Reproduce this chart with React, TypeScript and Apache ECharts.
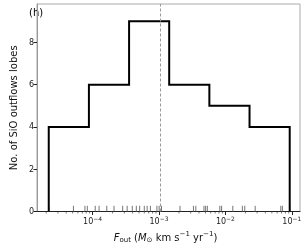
import React, { useEffect, useRef } from "react";
import * as echarts from "echarts";

// log10 of F_out (Msun km/s/yr)
const BIN_EDGES = [-4.661, -4.056, -3.451, -2.847, -2.242, -1.637, -1.032];
const BIN_COUNTS = [4, 6, 9, 6, 5, 4];
const RUG_LOG_FOUT = [
  -4.661, -4.289, -4.116, -4.08,
  -3.961, -3.903, -3.787, -3.678, -3.548, -3.48,
  -3.403, -3.342, -3.292, -3.222, -3.179, -3.13, -3.032, -2.998, -2.963,
  -2.684, -2.482, -2.446, -2.323, -2.298, -2.272,
  -2.084, -2.058, -1.889, -1.745, -1.709,
  -1.552, -1.166, -1.142, -1.032,
];
const MEDIAN_LOG = -2.975;
const X_TICKS = [-4, -3, -2, -1];
const Y_TICKS = [0, 2, 4, 6, 8];
const X_MIN = -4.838;
const X_MAX = -0.877;
const Y_MAX = 9.82;

const FONT = "DejaVu Sans";

export default function App() {
  const ref = useRef<HTMLDivElement>(null);
  useEffect(() => {
    document.body.style.margin = "0";
    const chart = echarts.init(ref.current!, null, { renderer: "svg" });

    const stepPts: number[][] = [[BIN_EDGES[0], 0]];
    BIN_COUNTS.forEach((c, i) => {
      stepPts.push([BIN_EDGES[i], c]);
      stepPts.push([BIN_EDGES[i + 1], c]);
    });
    stepPts.push([BIN_EDGES[BIN_EDGES.length - 1], 0]);

    const minor: number[][] = [];
    for (let n = -5; n <= -1; n++) {
      for (let k = 2; k <= 9; k++) {
        const v = n + Math.log10(k);
        if (v > X_MIN && v < X_MAX) minor.push([v]);
      }
    }

    chart.setOption({
      animation: false,
      textStyle: { fontFamily: FONT },
      grid: {
        left: 26,
        right: 7,
        top: 4,
        bottom: 31,
        show: true,
        borderColor: "#aaa",
        borderWidth: 1,
      },
      xAxis: {
        type: "value",
        min: X_MIN,
        max: X_MAX,
        name: "{i|F}{sub|out} ({i|M}{sub|⊙} km s{sup|−1} yr{sup|−1})",
        nameLocation: "middle",
        nameGap: 19,
        nameTextStyle: {
          fontFamily: FONT,
          fontSize: 10,
          color: "#111",
          padding: [0, 6, 0, 0],
          rich: {
            i: { fontFamily: FONT, fontSize: 10, fontStyle: "italic", color: "#111" },
            sub: { fontFamily: FONT, fontSize: 7, color: "#111", padding: [5, 0, 0, 0] },
            sup: { fontFamily: FONT, fontSize: 7, color: "#111", padding: [0, 0, 6, 0] },
          },
        },
        axisLine: { lineStyle: { color: "#222", width: 1 } },
        axisTick: {
          customValues: X_TICKS,
          length: 3.5,
          lineStyle: { color: "#222" },
        },
        axisLabel: {
          customValues: X_TICKS,
          margin: 4,
          formatter: (v: number) => `{b|10}{s|−${Math.round(-v)}}`,
          rich: {
            b: { fontFamily: FONT, fontSize: 8, color: "#222" },
            s: { fontFamily: FONT, fontSize: 6, color: "#222", padding: [0, 0, 5, 0] },
          },
        },
        splitLine: { show: false },
      },
      yAxis: {
        type: "value",
        min: 0,
        max: Y_MAX,
        name: "No. of SiO outflows lobes",
        nameLocation: "middle",
        nameGap: 15,
        nameTextStyle: { fontFamily: FONT, fontSize: 10, color: "#111" },
        axisLine: { show: true, lineStyle: { color: "#999", width: 1 } },
        axisTick: {
          show: true,
          customValues: Y_TICKS,
          length: 3.5,
          lineStyle: { color: "#222" },
        },
        axisLabel: {
          customValues: Y_TICKS,
          margin: 3,
          fontFamily: FONT,
          fontSize: 8,
          color: "#222",
        },
        splitLine: { show: false },
      },
      graphic: [
        {
          type: "text",
          left: 29,
          top: 7,
          style: { text: "(h)", fontFamily: FONT, fontSize: 10, fill: "#000" },
        },
      ],
      series: [
        {
          type: "custom",
          clip: false,
          silent: true,
          data: minor,
          renderItem: (_p: any, api: any) => {
            const p0 = api.coord([api.value(0), 0]);
            return {
              type: "line",
              shape: { x1: p0[0], y1: p0[1], x2: p0[0], y2: p0[1] + 2 },
              style: { stroke: "#222", lineWidth: 0.6 },
            };
          },
          z: 1,
        },
        {
          type: "custom",
          silent: true,
          data: RUG_LOG_FOUT.map((v) => [v]),
          renderItem: (_p: any, api: any) => {
            const p0 = api.coord([api.value(0), 0]);
            const p1 = api.coord([api.value(0), 0.27]);
            return {
              type: "line",
              shape: { x1: p0[0], y1: p0[1], x2: p1[0], y2: p1[1] },
              style: { stroke: "#666", lineWidth: 0.9 },
            };
          },
          markLine: {
            silent: true,
            symbol: "none",
            label: { show: false },
            lineStyle: { type: [3, 2], color: "#999", width: 1 },
            data: [{ xAxis: MEDIAN_LOG }],
          },
          z: 2,
        },
        {
          type: "line",
          data: stepPts,
          showSymbol: false,
          symbol: "none",
          lineStyle: { color: "#000", width: 2, join: "miter" },
          z: 3,
        },
      ],
    });
    return () => chart.dispose();
  }, []);
  return (
    <div
      ref={ref}
      style={{ position: "fixed", left: 0, top: 0, width: 307, height: 248 }}
    />
  );
}
